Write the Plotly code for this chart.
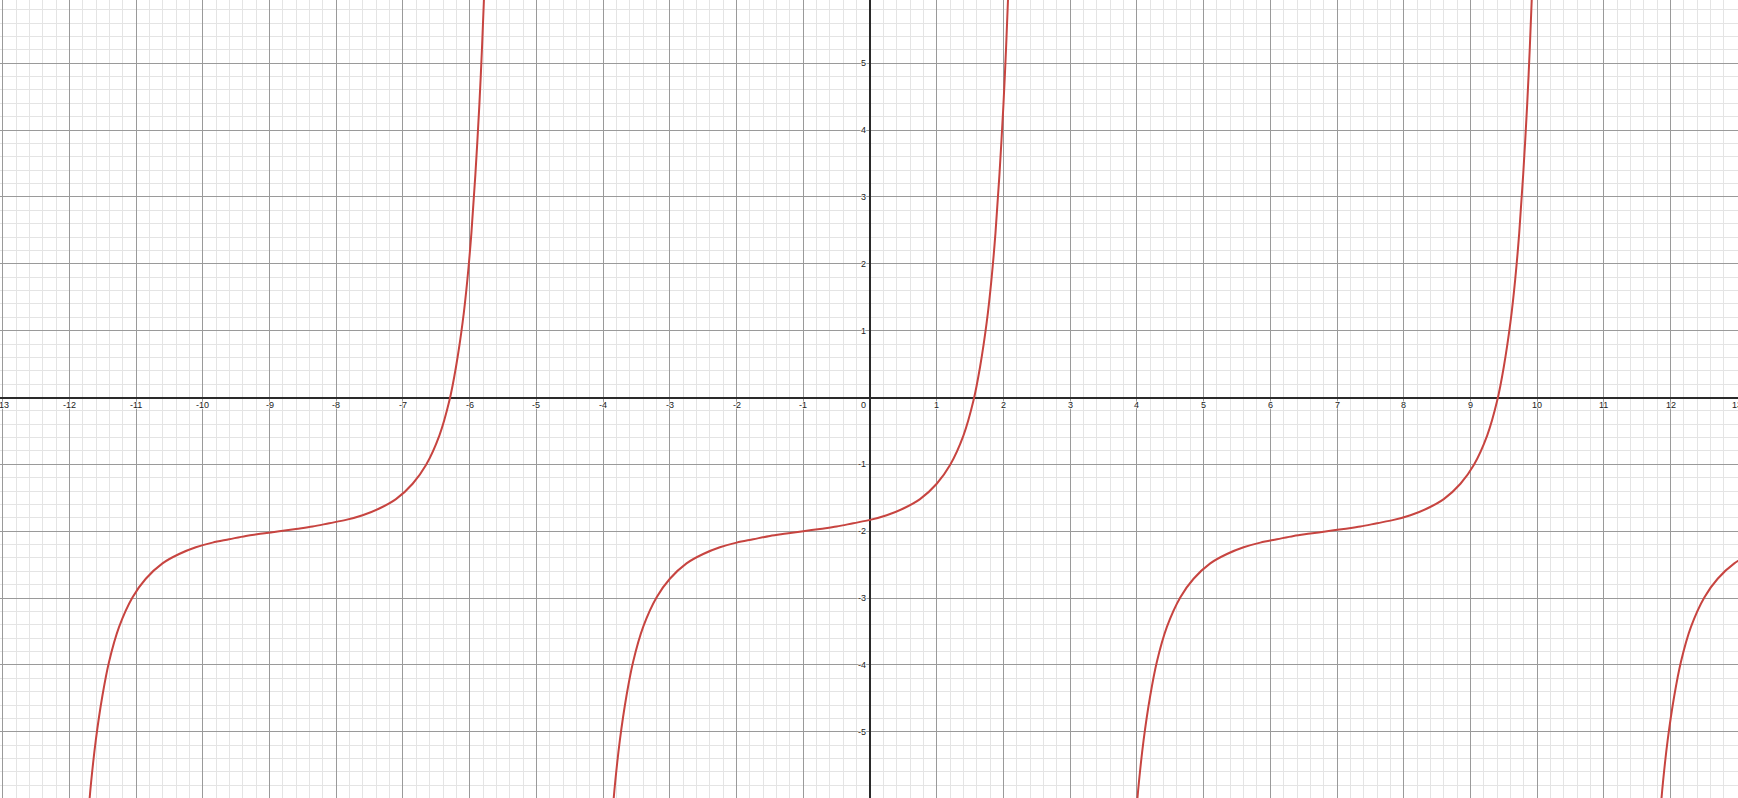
import plotly.graph_objects as go

# ---- data (x, y) per branch ----
branch_y = [-6.45, -5.76, -5.13, -4.46, -3.95, -3.43, -2.99, -2.71, -2.48, -2.34, -2.24, -2.17, -2.12,
            -2.07, -2.035, -2.0, -1.965, -1.93, -1.88, -1.83, -1.76, -1.66, -1.52, -1.29, -1.01, -0.57,
            -0.05, 0.46, 1.13, 1.76, 2.45, 3.33, 4.38, 5.24, 6.24]

branch1_x = [-11.735, -11.675, -11.605, -11.505, -11.405, -11.255, -11.055, -10.855, -10.605, -10.355,
             -10.105, -9.855, -9.605, -9.355, -9.105, -8.855, -8.605, -8.355, -8.105, -7.855, -7.605,
             -7.355, -7.105, -6.855, -6.655, -6.455, -6.305, -6.205, -6.105, -6.035, -5.975, -5.915,
             -5.855, -5.815, -5.775]
branch1_y = branch_y

branch2_x = [-3.88, -3.82, -3.75, -3.65, -3.55, -3.4, -3.2, -3.0, -2.75, -2.5, -2.25, -2.0, -1.75, -1.5,
             -1.25, -1.0, -0.75, -0.5, -0.25, 0.0, 0.25, 0.5, 0.75, 1.0, 1.2, 1.4, 1.55, 1.65, 1.75, 1.82,
             1.88, 1.94, 2.0, 2.04, 2.08]
branch2_y = branch_y

branch3_x = [3.97, 4.03, 4.1, 4.2, 4.3, 4.45, 4.65, 4.85, 5.1, 5.35, 5.6, 5.85, 6.1, 6.35, 6.6, 6.85, 7.1,
             7.35, 7.6, 7.85, 8.1, 8.35, 8.6, 8.85, 9.05, 9.25, 9.4, 9.5, 9.6, 9.67, 9.73, 9.79, 9.85,
             9.89, 9.93]
branch3_y = branch_y

branch4_x = [11.825, 11.885, 11.955, 12.055, 12.155, 12.305, 12.505, 12.705, 12.955, 13.205]
branch4_y = [-6.45, -5.76, -5.13, -4.46, -3.95, -3.43, -2.99, -2.71, -2.48, -2.34]

x_tick_values = [-13, -12, -11, -10, -9, -8, -7, -6, -5, -4, -3, -2, -1, 1, 2, 3, 4, 5, 6, 7, 8, 9, 10, 11, 12, 13]
x_tick_labels = [str(v) for v in x_tick_values]
y_tick_values = [-6, -5, -4, -3, -2, -1, 1, 2, 3, 4, 5]
y_tick_labels = [str(v) for v in y_tick_values]
origin_label = "0"

# ---- style ----
CURVE = "#c74440"
MAJOR = "#9a9a9a"
MINOR = "#e4e4e4"
LABEL_FONT = dict(family="Liberation Sans, Arial, sans-serif", size=9, color="#222222",
                  shadow="1px 0px 1px white, -1px 0px 1px white, 0px 1px 1px white, 0px -1px 1px white")

fig = go.Figure()
for bx, by in [(branch1_x, branch1_y), (branch2_x, branch2_y), (branch3_x, branch3_y), (branch4_x, branch4_y)]:
    fig.add_trace(go.Scatter(x=bx, y=by, mode="lines",
                             line=dict(color=CURVE, width=2, shape="spline", smoothing=1.0),
                             hoverinfo="skip", showlegend=False, cliponaxis=True))

annotations = []
for v, t in zip(x_tick_values, x_tick_labels):
    annotations.append(dict(x=v, y=0, xref="x", yref="y", text=t, showarrow=False,
                            xanchor="center", yanchor="middle", yshift=-7, font=LABEL_FONT))
for v, t in zip(y_tick_values, y_tick_labels):
    annotations.append(dict(x=0, y=v, xref="x", yref="y", text=t, showarrow=False,
                            xanchor="right", yanchor="middle", xshift=-2, font=LABEL_FONT))
annotations.append(dict(x=0, y=0, xref="x", yref="y", text=origin_label, showarrow=False,
                        xanchor="right", yanchor="middle", xshift=-2, yshift=-7, font=LABEL_FONT))

axis_common = dict(
    showgrid=True, gridcolor=MAJOR, gridwidth=1, dtick=1, tick0=0,
    minor=dict(dtick=0.2, tick0=0, showgrid=True, gridcolor=MINOR, gridwidth=1),
    zeroline=True, zerolinecolor="#2a2a2a", zerolinewidth=1.6,
    showticklabels=False, ticks="", showline=False, fixedrange=True,
)

fig.update_layout(
    width=1738, height=798,
    margin=dict(l=0, r=0, t=0, b=0, pad=0),
    paper_bgcolor="white", plot_bgcolor="white",
    xaxis=dict(range=[-13.04, 13.01], **axis_common),
    yaxis=dict(range=[-5.989, 5.944], **axis_common),
    annotations=annotations,
    showlegend=False,
)

fig.write_html("out.html", config={"displayModeBar": False},
               post_script="document.body.style.margin='0px';document.body.style.overflow='hidden';")
